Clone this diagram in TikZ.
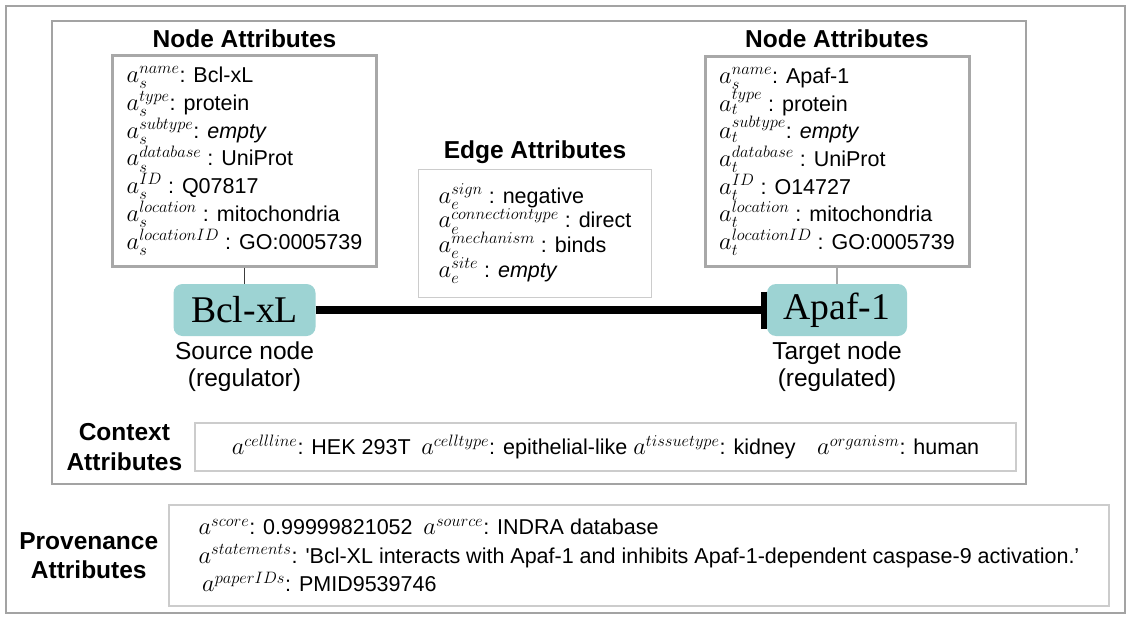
\RequirePackage{fix-cm}
\documentclass[tikz,border=0pt]{standalone}
\usepackage{fontspec}
\setmainfont{Liberation Sans}
\newfontfamily\genefont{Liberation Serif}
\usepackage{tikz}
\usetikzlibrary{arrows.meta,positioning}
\usepackage{xcolor}
\definecolor{ink}{HTML}{000000}
\definecolor{framegray}{HTML}{A3A3A3}
\definecolor{attrgray}{HTML}{A8A8A8}
\definecolor{thingray}{HTML}{CCCCCC}
\definecolor{genefill}{HTML}{9DD3D3}
\definecolor{linkdark}{HTML}{3C3C3C}
\definecolor{linklight}{HTML}{A8A8A8}
\setlength{\lineskiplimit}{-20pt}
\DeclareMathSizes{21.5}{24.5}{16.5}{12}
\tikzset{
  >=Latex,
  every node/.style={text=ink},
  outerframe/.style={draw=framegray,line width=1.6pt},
  attrbox/.style={draw=attrgray,line width=3pt,fill=white,align=left,inner xsep=7pt,minimum width=264pt,minimum height=210pt,font=\fontsize{21.5}{27.7}\selectfont},
  thinbox/.style={draw=thingray,line width=1.2pt,fill=white,align=left,inner sep=4pt,font=\fontsize{21.5}{28.5}\selectfont},
  gene/.style={fill=genefill,rounded corners=9pt,minimum width=142pt,minimum height=52pt,inner sep=0pt,font=\genefont\fontsize{37.7}{40}\selectfont},
  title/.style={font=\bfseries\fontsize{24.5}{29.5}\selectfont,inner sep=0pt,align=center},
  caption/.style={font=\fontsize{24.5}{26.5}\selectfont,align=center,inner sep=0pt},
  inhibit/.style={-{Bar[width=37pt,line width=6pt]},line width=8pt,draw=ink},
  tie/.style={draw=linkdark,line width=1.5pt},
  tielight/.style={draw=linklight,line width=1.5pt},
}
\begin{document}
\begin{tikzpicture}[x=1pt,y=-1pt,node distance=7pt]
\useasboundingbox (0,0) rectangle (1139,626);
\draw[outerframe] (6,6) rectangle (1125,613);
\draw[outerframe] (52,21) rectangle (1026,484);
\node[attrbox] (srcattr) at (244.5,161) {$a_s^{name}$: Bcl-xL\\
$a_s^{type}$: protein\\
$a_s^{subtype}$: \textit{empty}\\
$a_s^{database}$ : UniProt\\
$a_s^{ID}$ : Q07817\\
$a_s^{location}$ : mitochondria\\
$a_s^{locationID}$ : GO:0005739};
\node[attrbox] (tgtattr) at (837,161.5) {$a_s^{name}$: Apaf-1\\
$a_t^{type}$ : protein\\
$a_t^{subtype}$: \textit{empty}\\
$a_t^{database}$ : UniProt\\
$a_t^{ID}$ : O14727\\
$a_t^{location}$ : mitochondria\\
$a_t^{locationID}$ : GO:0005739};
\node[title,above=of srcattr] (srctitle) {Node Attributes};
\node[title,above=of tgtattr] (tgttitle) {Node Attributes};
\node[gene] (bcl) at (244.5,310) {Bcl-xL};
\node[gene,minimum width=140pt] (apaf) at (837,310) {Apaf-1};
\node[caption,below=5.5pt of bcl] (bclcap) {Source node\\(regulator)};
\node[caption,below=5.5pt of apaf] (apafcap) {Target node\\(regulated)};
\node[thinbox,minimum width=233pt,minimum height=128pt,font=\fontsize{21.5}{24.7}\selectfont] (edgeattr) at (535,233.5) {$a_e^{sign}$ : negative\\
$a_e^{connectiontype}$ : direct\\
$a_e^{mechanism}$ : binds\\
$a_e^{site}$ : \textit{empty}};
\node[title,above=5pt of edgeattr] (edgetitle) {Edge Attributes};
\node[thinbox,minimum width=821pt,minimum height=48pt] (ctxattr) at (605.5,447) {$a^{cellline}$: HEK 293T\enspace $a^{celltype}$: epithelial-like $a^{tissuetype}$: kidney\quad $a^{organism}$: human};
\node[title,left=12pt of ctxattr] (ctxtitle) {Context\\Attributes};
\node[thinbox,minimum width=940pt,minimum height=101pt] (provattr) at (639,555.5) {$a^{score}$: 0.99999821052\enspace $a^{source}$: INDRA database\\
$a^{statements}$: \textquotesingle Bcl-XL interacts with Apaf-1 and inhibits Apaf-1-dependent caspase-9 activation.'\\
\,$a^{paperIDs}$: PMID9539746};
\node[title,left=10pt of provattr] (provtitle) {Provenance\\Attributes};
\draw[tie] (srcattr) -- (bcl);
\draw[tielight] (tgtattr) -- (apaf);
\draw[inhibit] (bcl) -- (apaf);
\end{tikzpicture}
\end{document}
